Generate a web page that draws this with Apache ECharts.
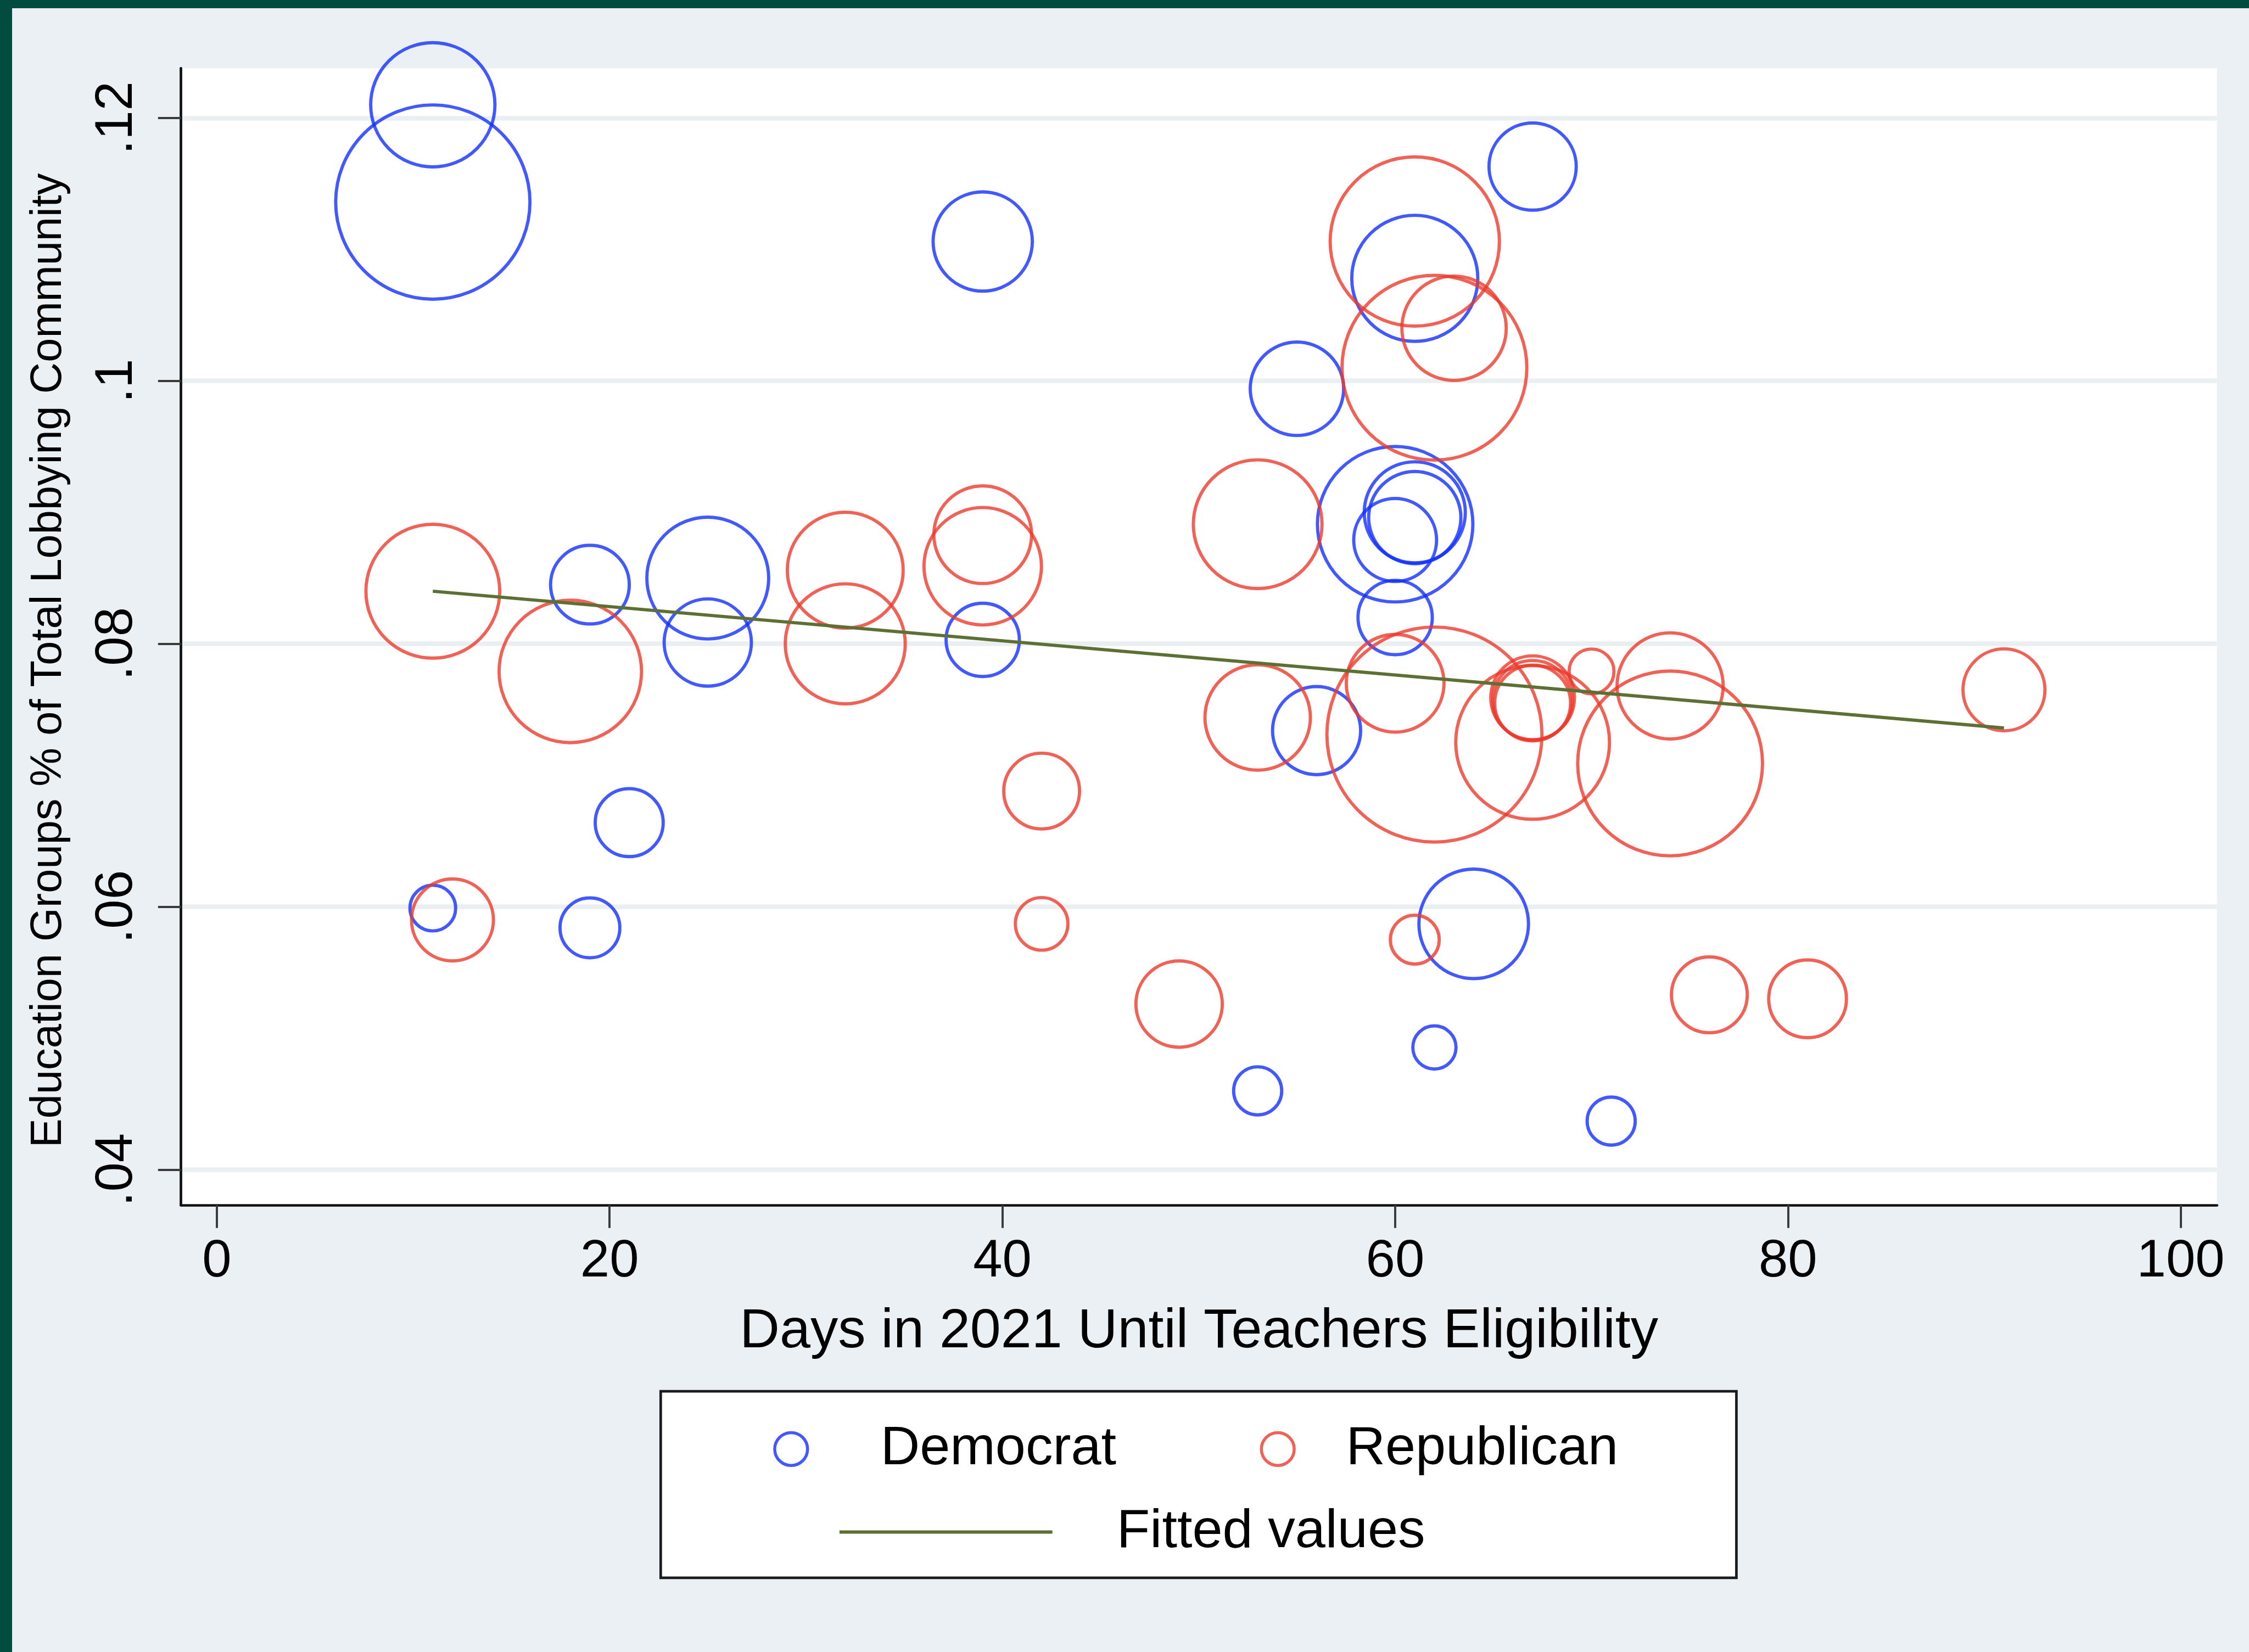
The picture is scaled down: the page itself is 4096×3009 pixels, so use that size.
<!DOCTYPE html>
<html>
<head>
<meta charset="utf-8">
<title>Education groups lobbying share vs teacher eligibility</title>
<script src="https://cdn.jsdelivr.net/npm/echarts@6.0.0/dist/echarts.min.js"></script>
<style>
  html, body { margin: 0; padding: 0; background: #eaf0f3; }
  #chart { width: 4096px; height: 3009px; }
</style>
</head>
<body>
<div id="chart"></div>
<script>
// values (x = days, y = share, w = bubble weight)
const demDays   = [11, 11, 39, 67, 61, 55, 60, 61, 61, 60, 60, 19, 25, 25, 39, 56, 21, 11, 19, 64, 62, 53, 71];
const demShare  = [.1210, .1136, .1106, .1163, .1078, .0994, .0891, .0900, .0896, .0879, .0820, .0845,
                   .0850, .0801, .0803, .0734, .0664, .0599, .0584, .0587, .0493, .0460, .0437];
const demWeight = [20.7, 50.6, 13.2, 10.2, 21.3, 11.7, 32.4, 13.7, 11.4, 9.2, 7.4, 8.3,
                   19.9, 10.2, 7.2, 10.4, 6.2, 2.8, 4.8, 16.1, 2.5, 3.1, 3.1];

const repDays   = [61, 63, 62, 53, 39, 39, 32, 32, 11, 18, 60, 70, 67, 67, 67, 74, 91, 53, 62, 67,
                   74, 42, 12, 42, 61, 49, 76, 81];
const repShare  = [.1106, .1040, .1010, .0891, .0883, .0859, .0856, .0800, .0840, .0779, .0770, .0779,
                   .0759, .0757, .0755, .0768, .0765, .0744, .0731, .0725, .0709, .0688, .0590, .0587,
                   .0575, .0526, .0533, .0530];
const repWeight = [38.4, 14.6, 45.8, 22.2, 12.8, 18.5, 18.0, 19.3, 24.0, 27.2, 12.8, 2.7,
                   9.4, 8.5, 7.7, 15.1, 9.0, 14.9, 62.0, 31.7, 45.8, 7.7, 9.0, 3.7,
                   3.2, 10.0, 7.7, 8.1];

const fitDays   = [11, 91];
const fitValues = [0.0840, 0.0736];

const xTicks = [0, 20, 40, 60, 80, 100];
const yTicks = [0.04, 0.06, 0.08, 0.10, 0.12];

const X_TITLE = 'Days in 2021 Until Teachers Eligibility';
const Y_TITLE = 'Education Groups % of Total Lobbying Community';

// reference was 5208 wide, window is 4096
const S = 4096 / 5208;
const px = v => v * S;

const FONT  = '"Liberation Sans", Arial, Helvetica, sans-serif';
const BLUE  = '#1230ff';
const RED   = '#ec3a2c';
const OLIVE = '#5c7034';
const FRAME = '#024b3f';
const PANEL = '#eaf0f3';
const LEG_FONT = px(126);

const zip3 = (a, b, c) => a.map((v, i) => [v, b[i], c[i]]);

// legend box is placed by the bounding rect of what is drawn, so the
// left edge here is the left edge of the little circle
const circleLegend = (name, cx, textX, cy, color) => {
  const half = px(textX - cx) - 5;
  const h = px(76);
  return {
    data: [{name, icon: 'circle', itemStyle: {color: 'rgba(0,0,0,0)', borderColor: color, borderWidth: px(7)}}],
    left: px(cx) - h / 2 - px(3.5),
    top: px(cy) - LEG_FONT / 2,
    itemWidth: half * 2,
    itemHeight: h,
    padding: 0,
    selectedMode: false,
    textStyle: {fontSize: LEG_FONT, lineHeight: LEG_FONT, color: '#000', fontFamily: FONT}
  };
};

const lineLegend = (name, x0, x1, textX, cy, color) => {
  const w = px(textX - x0) - 5;
  const len = px(x1 - x0);
  const h = px(7.5);
  return {
    data: [{name, icon: `path://M0,0L${len},0L${len},${h}L0,${h}ZM${w},0L${w},${h}`, itemStyle: {color, borderWidth: 0}}],
    left: px(x0),
    top: px(cy) - LEG_FONT / 2,
    itemWidth: w,
    itemHeight: h,
    symbolKeepAspect: false,
    padding: 0,
    selectedMode: false,
    textStyle: {fontSize: LEG_FONT, lineHeight: LEG_FONT, color: '#000', fontFamily: FONT}
  };
};

const bubble = (name, data, color) => ({
  name,
  type: 'scatter',
  data,
  symbol: 'circle',
  symbolSize: d => 2 * Math.sqrt(d[2] * 1000) * S,
  itemStyle: {color: 'rgba(0,0,0,0)', borderColor: color, borderWidth: px(7.5)},
  clip: false,
  emphasis: {disabled: true},
  z: 3
});

const chart = echarts.init(document.getElementById('chart'));

const option = {
  backgroundColor: PANEL,
  animation: false,
  graphic: [
    {type: 'rect', silent: true, shape: {x: 0, y: 0, width: 4096, height: px(19)}, style: {fill: FRAME}},
    {type: 'rect', silent: true, shape: {x: 0, y: 0, width: px(28), height: 3009}, style: {fill: FRAME}},
    {type: 'rect', silent: true, shape: {x: px(1530), y: px(3222), width: px(2491), height: px(432)},
      style: {fill: '#fff', stroke: '#1b1b1b', lineWidth: px(6)}}
  ],
  grid: {
    left: px(419), top: px(158), right: px(74), bottom: px(1035),
    show: true, backgroundColor: '#fff', borderWidth: 0
  },
  xAxis: {
    type: 'value',
    min: -1.825,
    max: 101.85,
    name: X_TITLE,
    nameLocation: 'middle',
    nameGap: px(230),
    nameTextStyle: {fontSize: px(128), color: '#000', fontFamily: FONT},
    axisLine: {show: true, onZero: false, lineStyle: {color: '#111', width: px(6)}},
    axisTick: {show: true, length: px(53), customValues: xTicks, lineStyle: {color: '#3a3a3a', width: px(5)}},
    axisLabel: {customValues: xTicks, margin: px(71), fontSize: px(122), color: '#000', fontFamily: FONT},
    splitLine: {show: false}
  },
  yAxis: {
    type: 'value',
    min: 0.03731,
    max: 0.12378,
    name: Y_TITLE,
    nameLocation: 'middle',
    nameGap: px(255),
    nameTextStyle: {fontSize: px(101), color: '#000', fontFamily: FONT, padding: [0, px(110), 0, 0]},
    axisLine: {show: true, onZero: false, lineStyle: {color: '#111', width: px(6)}},
    axisTick: {show: true, length: px(53), customValues: yTicks, lineStyle: {color: '#3a3a3a', width: px(5)}},
    axisLabel: {
      customValues: yTicks,
      rotate: 90,
      margin: px(87),
      fontSize: px(122),
      color: '#000',
      fontFamily: FONT,
      formatter: v => v.toFixed(2).replace(/^0/, '').replace(/0$/, '')
    },
    splitLine: {show: true, lineStyle: {color: '#eaf0f2', width: px(11)}}
  },
  legend: [
    circleLegend('Democrat', 1832, 2039, 3356, BLUE),
    circleLegend('Republican', 2959, 3117, 3356, RED),
    lineLegend('Fitted values', 1944, 2437, 2586, 3548, OLIVE)
  ],
  series: [
    bubble('Democrat', zip3(demDays, demShare, demWeight), BLUE),
    bubble('Republican', zip3(repDays, repShare, repWeight), RED),
    {
      name: 'Fitted values',
      type: 'line',
      data: fitDays.map((d, i) => [d, fitValues[i]]),
      symbol: 'none',
      showSymbol: false,
      lineStyle: {color: OLIVE, width: px(7.5)},
      emphasis: {disabled: true},
      z: 4
    }
  ]
};

chart.setOption(option);
</script>
</body>
</html>
